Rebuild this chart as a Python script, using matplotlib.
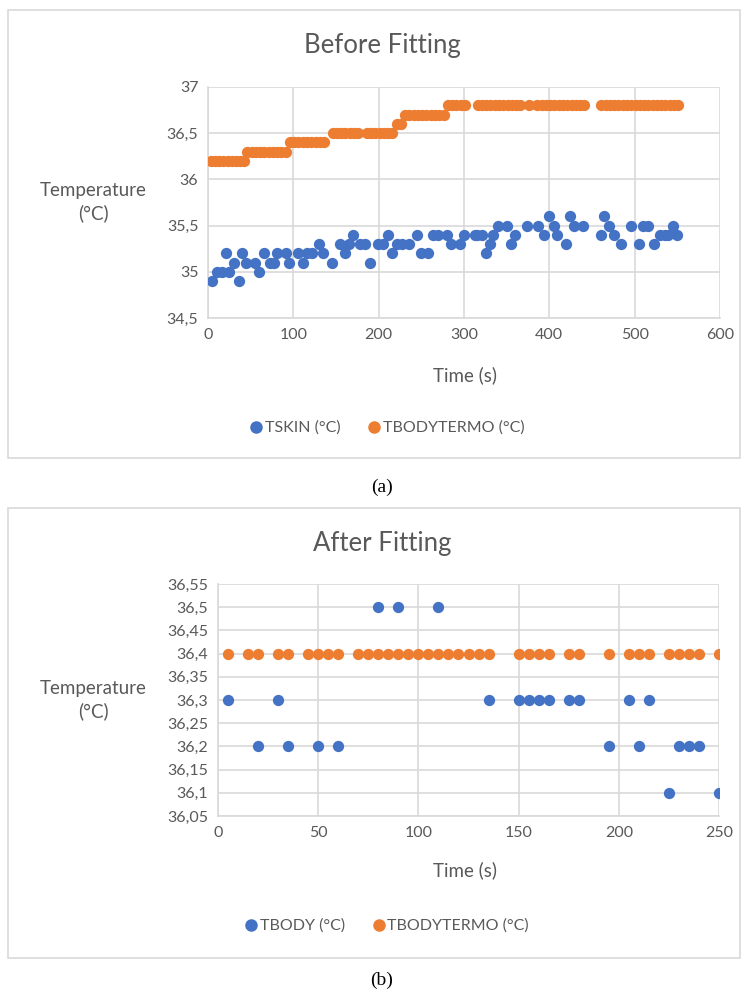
import matplotlib
matplotlib.use("Agg")
import matplotlib.pyplot as plt
from matplotlib.patches import Rectangle
from matplotlib.lines import Line2D
from matplotlib.ticker import FuncFormatter, MultipleLocator

plt.rcParams['font.family'] = ['Lato', 'DejaVu Sans']

# ---------------- Data: (a) Before Fitting ----------------
tskin_t = [5, 11, 16, 21, 25, 30, 36, 40, 45, 55, 60, 66, 73, 77, 81, 91, 95,
           105, 111, 116, 122, 130, 135, 145, 155, 161, 165, 170, 178, 184, 190,
           199, 205, 211, 216, 221, 227, 235, 245, 250, 258, 264, 270, 280, 285,
           295, 300, 313, 315, 321, 326, 331, 334, 340, 350, 355, 360, 374, 387,
           394, 400, 406, 409, 420, 424, 429, 440, 460, 464, 470, 476, 484, 496,
           505, 510, 516, 523, 530, 535, 539, 545, 550]
tskin_v = [34.9, 35.0, 35.0, 35.2, 35.0, 35.1, 34.9, 35.2, 35.1, 35.1, 35.0, 35.2,
           35.1, 35.1, 35.2, 35.2, 35.1, 35.2, 35.1, 35.2, 35.2, 35.3, 35.2, 35.1,
           35.3, 35.2, 35.3, 35.4, 35.3, 35.3, 35.1, 35.3, 35.3, 35.4, 35.2, 35.3,
           35.3, 35.3, 35.4, 35.2, 35.2, 35.4, 35.4, 35.4, 35.3, 35.3, 35.4, 35.4,
           35.4, 35.4, 35.2, 35.3, 35.4, 35.5, 35.5, 35.3, 35.4, 35.5, 35.5, 35.4,
           35.6, 35.5, 35.4, 35.3, 35.6, 35.5, 35.5, 35.4, 35.6, 35.5, 35.4, 35.3,
           35.5, 35.3, 35.5, 35.5, 35.3, 35.4, 35.4, 35.4, 35.5, 35.4]

termo_a_t = [3, 8, 13, 18, 23, 28, 33, 38, 42,
             46, 51, 56, 61, 66, 71, 76, 81, 86, 91,
             96, 101, 106, 111, 116, 121, 126, 131, 136,
             146, 151, 156, 161, 166, 171, 176, 186, 191, 196, 201, 206, 211, 216,
             221, 226,
             231, 236, 241, 246, 251, 256, 261, 266, 271, 276,
             281, 286, 291, 296, 301, 316, 321, 326, 331, 336, 341, 346, 351, 356,
             361, 366, 376, 386, 391, 396, 401, 406, 411, 416, 421, 426, 431, 436,
             441, 461, 466, 471, 476, 481, 486, 491, 496, 501, 506, 511, 516, 521,
             526, 531, 536, 541, 546, 551]
termo_a_v = ([36.2] * 9 + [36.3] * 10 + [36.4] * 9 + [36.5] * 14 + [36.6] * 2 +
             [36.7] * 10 + [36.8] * 48)

# ---------------- Data: (b) After Fitting ----------------
tbody_t = [5, 20, 30, 35, 50, 60, 80, 90, 110, 135, 150, 155, 160, 165, 175, 180,
           195, 205, 210, 215, 225, 230, 235, 240, 250]
tbody_v = [36.3, 36.2, 36.3, 36.2, 36.2, 36.2, 36.5, 36.5, 36.5, 36.3, 36.3, 36.3,
           36.3, 36.3, 36.3, 36.3, 36.2, 36.3, 36.2, 36.3, 36.1, 36.2, 36.2, 36.2,
           36.1]

termo_b_t = [5, 15, 20, 30, 35, 45, 50, 55, 60, 70, 75, 80, 85, 90, 95, 100, 105,
             110, 115, 120, 125, 130, 135, 150, 155, 160, 165, 175, 180, 195, 205,
             210, 215, 225, 230, 235, 240, 250]
termo_b_v = [36.4] * 38

BLUE = '#4472c4'
ORANGE = '#ed7d31'
GRID = '#d9d9d9'
TXT = '#595959'
MS = 66

W, H = 746, 992
fig = plt.figure(figsize=(W / 100, H / 100), dpi=100)


def px_axes(l, r, t, b):
    return fig.add_axes([l / W, 1 - b / H, (r - l) / W, (b - t) / H])


def comma(fmt):
    return FuncFormatter(lambda v, p: (fmt % v).replace('.', ','))


def style(ax):
    ax.set_facecolor('white')
    ax.grid(True, color=GRID, linewidth=1.2)
    ax.set_axisbelow(True)
    for s in ['top', 'right']:
        ax.spines[s].set_visible(False)
    for s in ['left', 'bottom']:
        ax.spines[s].set_color(GRID)
        ax.spines[s].set_linewidth(1.2)
    ax.tick_params(length=0, labelsize=11.5, colors=TXT, pad=7)


# panel borders
for (t, b) in [(10, 458), (508, 958)]:
    fig.add_artist(Rectangle((8 / W, 1 - b / H), (740 - 8) / W, (b - t) / H,
                             transform=fig.transFigure, fill=False,
                             edgecolor=GRID, linewidth=1.2))

# ---- top chart
ax1 = px_axes(208, 720, 87, 318)
style(ax1)
ax1.scatter(tskin_t, tskin_v, s=MS, color=BLUE, zorder=3, linewidths=0)
ax1.scatter(termo_a_t, termo_a_v, s=MS, color=ORANGE, zorder=3, linewidths=0)
ax1.set_xlim(0, 600)
ax1.set_ylim(34.5, 37)
ax1.xaxis.set_major_locator(MultipleLocator(100))
ax1.yaxis.set_major_locator(MultipleLocator(0.5))
ax1.yaxis.set_major_formatter(comma('%g'))
ax1.xaxis.set_major_formatter(FuncFormatter(lambda v, p: '%d' % v))
fig.text(382 / W, 1 - 45 / H, 'Before Fitting', ha='center', va='center',
         fontsize=18.5, color=TXT)
fig.text(93 / W, 1 - 202 / H, 'Temperature\n(°C)', ha='center', va='center',
         fontsize=13.5, color=TXT, linespacing=1.3)
fig.text(465 / W, 1 - 375 / H, 'Time (s)', ha='center', va='center',
         fontsize=13.5, color=TXT)
h1 = [Line2D([], [], marker='o', ls='', color=BLUE, markersize=8, label='TSKIN (°C)'),
      Line2D([], [], marker='o', ls='', color=ORANGE, markersize=8, label='TBODYTERMO (°C)')]
fig.legend(handles=h1, loc='center', bbox_to_anchor=(386 / W, 1 - 428 / H), ncol=2,
           frameon=False, fontsize=11.5, labelcolor=TXT, handletextpad=0.05,
           columnspacing=1.6, handlelength=1.0)
fig.text(382 / W, 1 - 487 / H, '(a)', ha='center', va='center', fontsize=14,
         family='Liberation Serif', color='black')

# ---- bottom chart
ax2 = px_axes(218, 719, 584, 816)
style(ax2)
ax2.scatter(tbody_t, tbody_v, s=MS, color=BLUE, zorder=3, linewidths=0)
ax2.scatter(termo_b_t, termo_b_v, s=MS, color=ORANGE, zorder=3, linewidths=0)
ax2.set_xlim(0, 250)
ax2.set_ylim(36.05, 36.55)
ax2.xaxis.set_major_locator(MultipleLocator(50))
ax2.set_yticks([36.05 + 0.05 * i for i in range(11)])
ax2.yaxis.set_major_formatter(FuncFormatter(lambda v, p: ('%.2f' % v).rstrip('0').rstrip('.').replace('.', ',')))
ax2.xaxis.set_major_formatter(FuncFormatter(lambda v, p: '%d' % v))
fig.text(382 / W, 1 - 543 / H, 'After Fitting', ha='center', va='center',
         fontsize=18.5, color=TXT)
fig.text(93 / W, 1 - 700 / H, 'Temperature\n(°C)', ha='center', va='center',
         fontsize=13.5, color=TXT, linespacing=1.3)
fig.text(465 / W, 1 - 870 / H, 'Time (s)', ha='center', va='center',
         fontsize=13.5, color=TXT)
h2 = [Line2D([], [], marker='o', ls='', color=BLUE, markersize=8, label='TBODY (°C)'),
      Line2D([], [], marker='o', ls='', color=ORANGE, markersize=8, label='TBODYTERMO (°C)')]
fig.legend(handles=h2, loc='center', bbox_to_anchor=(386 / W, 1 - 926 / H), ncol=2,
           frameon=False, fontsize=11.5, labelcolor=TXT, handletextpad=0.05,
           columnspacing=1.6, handlelength=1.0)
fig.text(382 / W, 1 - 980 / H, '(b)', ha='center', va='center', fontsize=14,
         family='Liberation Serif', color='black')

fig.savefig('out.png', dpi=100, facecolor='white')
